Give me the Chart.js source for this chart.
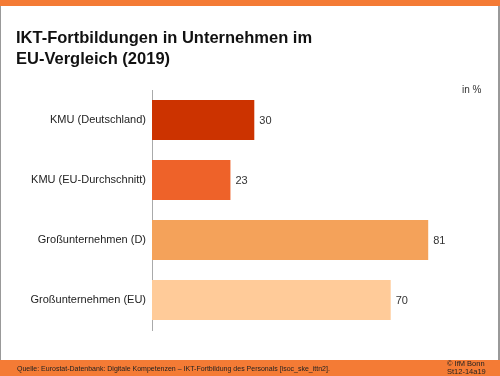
<!DOCTYPE html>
<html>
<head>
<meta charset="utf-8">
<script src="https://cdn.jsdelivr.net/npm/chart.js@4"></script>
<style>
  html, body { margin: 0; padding: 0; background: #fff; }
  #wrap { width: 500px; height: 376px; position: relative; }
</style>
</head>
<body>
<div id="wrap"><canvas id="chart" width="500" height="376"></canvas></div>
<script>
// IKT-Fortbildungen in Unternehmen
const categories = ["KMU (Deutschland)", "KMU (EU-Durchschnitt)", "Großunternehmen (D)", "Großunternehmen (EU)"];
const values = [30, 23, 81, 70];
const barColors = ["#CC3300", "#EE6229", "#F4A25A", "#FFCB99"];
const titleLines = ["IKT-Fortbildungen in Unternehmen im", "EU-Vergleich (2019)"];
const sourceText = "Quelle: Eurostat-Datenbank: Digitale Kompetenzen – IKT-Fortbildung des Personals [isoc_ske_ittn2].";
const creditLines = ["© IfM Bonn", "St12-14a19"];
const unitText = "in %";

const orange = "#F47B35";
const font = "'Liberation Sans', Arial, sans-serif";

// Rahmen, Titel, Quelle
const frame = {
  id: 'frame',
  beforeDraw(chart) {
    const c = chart.ctx;
    c.save();
    c.fillStyle = orange;
    c.fillRect(0, 0, 500, 6);
    c.fillRect(0, 360, 500, 16);
    c.fillStyle = "#999";
    c.fillRect(0, 6, 1, 354);
    c.fillRect(498, 6, 2, 354);
    c.restore();
  },
  afterDraw(chart) {
    const c = chart.ctx;
    c.save();
    c.fillStyle = "#111";
    c.font = "bold 16.5px " + font;
    c.textBaseline = "alphabetic";
    c.fillText(titleLines[0], 16, 43);
    c.fillText(titleLines[1], 16, 64);

    c.fillStyle = "#333";
    c.font = "10px " + font;
    c.fillText(unitText, 462, 93);

    c.fillStyle = "#222";
    c.font = "7px " + font;
    c.fillText(sourceText, 17, 371);
    c.font = "7.5px " + font;
    c.fillText(creditLines[0], 447, 366);
    c.fillText(creditLines[1], 447, 374);

    // Werte neben den Balken
    const meta = chart.getDatasetMeta(0);
    c.fillStyle = "#333";
    c.font = "11px " + font;
    c.textBaseline = "middle";
    meta.data.forEach((bar, i) => {
      c.fillText(values[i], bar.x + 5, bar.y + 1);
    });
    c.restore();
  }
};

const ctx = document.getElementById('chart').getContext('2d');
new Chart(ctx, {
  type: 'bar',
  data: {
    labels: categories,
    datasets: [{
      data: values,
      backgroundColor: barColors,
      borderWidth: 0,
      barPercentage: 0.8,
      categoryPercentage: 5 / 6
    }]
  },
  options: {
    indexAxis: 'y',
    responsive: false,
    animation: false,
    layout: { padding: { top: 90, bottom: 46, left: 0, right: 7 } },
    scales: {
      x: {
        display: false,
        min: 0,
        max: 100
      },
      y: {
        afterFit(scale) { scale.width = 152; },
        grid: { display: false, drawTicks: false },
        border: { display: true, color: "#aaa", width: 1 },
        ticks: {
          padding: 6,
          color: "#222",
          font: { family: font, size: 11 }
        }
      }
    },
    plugins: {
      legend: { display: false },
      tooltip: { enabled: false }
    }
  },
  plugins: [frame]
});
</script>
</body>
</html>
